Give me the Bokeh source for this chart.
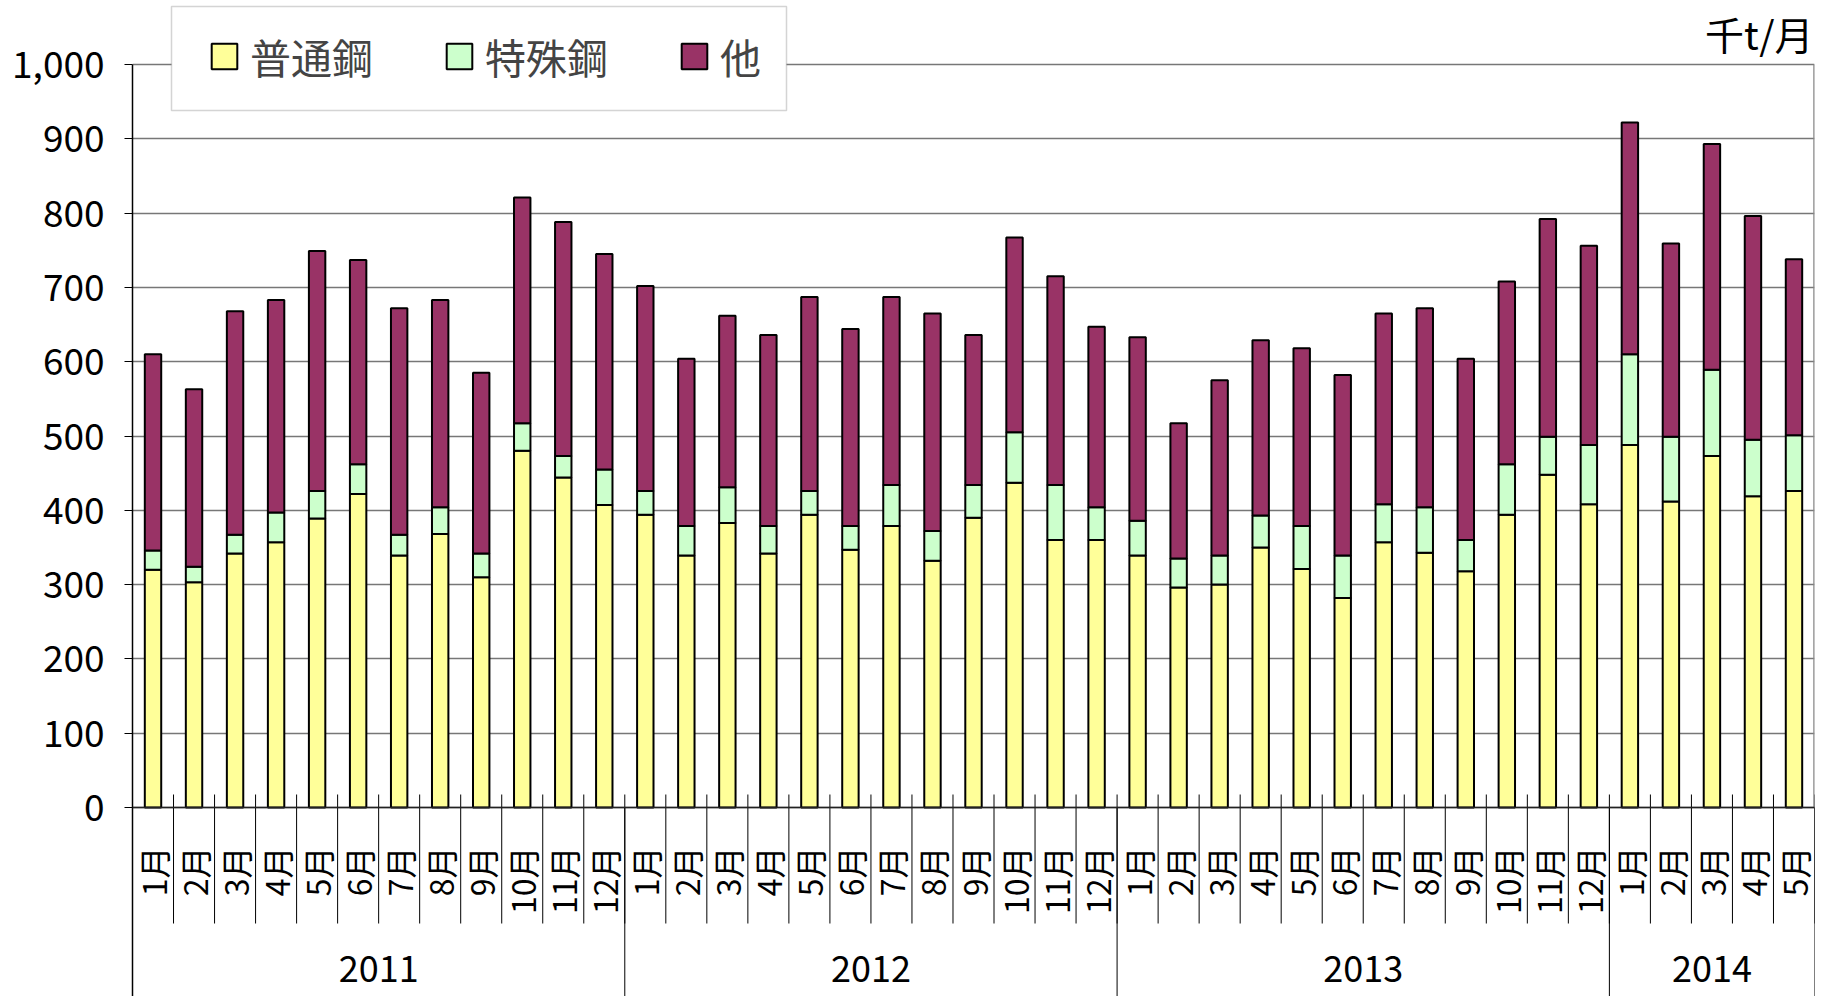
from math import pi
from bokeh.plotting import figure
from bokeh.models import (ColumnDataSource, FactorRange, Range1d, FixedTicker,
                          NumeralTickFormatter, Label, Span, BoxAnnotation)
from bokeh.core.properties import value
from bokeh.embed import file_html
from bokeh.resources import INLINE

# ---------------- data ----------------
years = ["2011", "2012", "2013", "2014"]
months_in_year = [12, 12, 12, 5]
month_names = ["1月", "2月", "3月", "4月", "5月", "6月",
               "7月", "8月", "9月", "10月", "11月", "12月"]
series_names = ["普通鋼", "特殊鋼", "他"]
series_colors = ["#FFFF99", "#CCFFCC", "#993366"]
y_ticks = [0, 100, 200, 300, 400, 500, 600, 700, 800, 900, 1000]
unit_label = "千t/月"

futsuu = [320, 303, 342, 357, 389, 422, 339, 368, 310, 480, 444, 407,
          394, 339, 383, 342, 394, 347, 379, 332, 390, 437, 360, 360,
          339, 296, 300, 350, 321, 282, 357, 343, 318, 394, 448, 408,
          488, 412, 473, 419, 426]
tokushu = [26, 21, 25, 40, 37, 40, 28, 36, 32, 37, 29, 48,
           32, 40, 48, 37, 32, 32, 55, 40, 44, 68, 74, 44,
           47, 39, 39, 43, 58, 57, 51, 61, 42, 68, 51, 80,
           122, 87, 116, 76, 75]
hoka = [264, 239, 301, 286, 323, 275, 305, 279, 243, 304, 315, 290,
        276, 225, 231, 257, 261, 265, 253, 293, 202, 262, 281, 243,
        247, 182, 236, 236, 239, 243, 257, 268, 244, 246, 293, 268,
        312, 260, 304, 301, 237]

# ---------------- layout constants (pixels, page coords) ----------------
FONT_NAME = "Noto Sans CJK JP"
FONT = value(FONT_NAME)
W, H = 1834, 996
BL, BR = 132, 20
FRAME_W = W - BL - BR
PAGE_1000 = 64               # page y of value 1000
PAGE_ZERO = 807              # page y of value 0
PPU = (PAGE_ZERO - PAGE_1000) / 1000.0
Y_END = 1000 + PAGE_1000 / PPU
Y_START = -(H - PAGE_ZERO) / PPU


def ydata(page_y):
    return (PAGE_ZERO - page_y) / PPU


factors = [(yr, month_names[i]) for yr, n in zip(years, months_in_year) for i in range(n)]

src = ColumnDataSource(dict(x=factors, **{series_names[0]: futsuu,
                                          series_names[1]: tokushu,
                                          series_names[2]: hoka}))

xr = FactorRange(*factors, factor_padding=0, group_padding=0,
                 subgroup_padding=0, range_padding=0)

p = figure(x_range=xr, y_range=Range1d(Y_START, Y_END), width=W, height=H,
           output_backend="svg", toolbar_location=None, x_axis_location=None,
           min_border_left=BL, min_border_right=BR, min_border_top=0,
           min_border_bottom=0, background_fill_color="white",
           border_fill_color="white")
p.outline_line_color = None
p.xgrid.visible = False

# grid & y axis
p.yaxis.ticker = FixedTicker(ticks=y_ticks)
p.yaxis.bounds = (Y_START, 1000)
p.yaxis.formatter = NumeralTickFormatter(format="0,0")
p.yaxis.major_label_text_font = FONT_NAME
p.yaxis.major_label_text_font_size = "37px"
p.yaxis.major_label_text_color = "black"
p.yaxis.major_label_standoff = 20
p.yaxis.major_tick_in = 0
p.yaxis.major_tick_out = 8
p.yaxis.major_tick_line_color = "black"
p.yaxis.minor_tick_line_color = None
p.yaxis.axis_line_color = "black"
p.yaxis.axis_line_width = 1.5
p.ygrid.grid_line_color = "#777777"
p.ygrid.grid_line_width = 1.3

# legend frame (drawn under the legend items)
p.add_layout(BoxAnnotation(left=171 - BL, right=786 - BL, top=H - 6, bottom=H - 110,
                           left_units="screen", right_units="screen",
                           top_units="screen", bottom_units="screen",
                           fill_color="white", fill_alpha=1,
                           line_color="#707070", line_width=1.5,
                           level="underlay"))

# bars
p.vbar_stack(series_names, x="x", width=0.4, source=src,
             fill_color=series_colors, line_color="black", line_width=2,
             legend_label=series_names)

p.add_layout(Span(location=0, dimension="width", line_color="#222222", line_width=1.6))

# separators below the plot
n = len(factors)
month_edges = [f + (-0.5,) for f in factors] + [factors[-1] + (0.5,)]
sep_src = ColumnDataSource(dict(x=month_edges,
                                y0=[ydata(PAGE_ZERO - 13)] * len(month_edges),
                                y1=[ydata(923)] * len(month_edges)))
p.segment(x0="x", y0="y0", x1="x", y1="y1", source=sep_src,
          line_color="black", line_width=1)

year_edges = []
idx = 0
for yr, cnt in zip(years, months_in_year):
    year_edges.append(factors[idx] + (-0.5,))
    idx += cnt
year_edges.append(factors[-1] + (0.5,))
ysep_src = ColumnDataSource(dict(x=year_edges,
                                 y0=[0] * len(year_edges),
                                 y1=[Y_START] * len(year_edges)))
p.segment(x0="x", y0="y0", x1="x", y1="y1", source=ysep_src,
          line_color="black", line_width=1)

# right border of the plot area
rb_src = ColumnDataSource(dict(x=[factors[-1] + (0.5,)], y0=[0], y1=[1000]))
p.segment(x0="x", y0="y0", x1="x", y1="y1", source=rb_src,
          line_color="#888888", line_width=2.5)

# month labels (vertical)
mlab = ColumnDataSource(dict(x=factors, y=[ydata(846)] * n,
                             t=[f[1] for f in factors]))
p.text(x="x", y="y", text="t", source=mlab, angle=pi / 2,
       text_align="right", text_baseline="middle", text_font=FONT,
       text_font_size="32px", text_color="black")

# year labels
ylab = ColumnDataSource(dict(x=years, y=[ydata(968)] * len(years), t=years))
p.text(x="x", y="y", text="t", source=ylab, text_align="center",
       text_baseline="middle", text_font=FONT, text_font_size="36px",
       text_color="black")

# unit label
p.add_layout(Label(x=FRAME_W - 1, y=H - 32,
                   x_units="screen", y_units="screen", text=unit_label,
                   text_align="right", text_baseline="middle",
                   text_font=FONT_NAME, text_font_size="39px", text_color="black"))

# legend (items only; frame drawn by the box above)
lg = p.legend[0]
lg.orientation = "horizontal"
lg.location = (213 + 5 - BL - 10, H - 86)
lg.border_line_color = None
lg.background_fill_alpha = 0
lg.label_text_font = FONT_NAME
lg.label_text_font_size = "41px"
lg.glyph_width = 32
lg.glyph_height = 32
lg.label_standoff = 10
lg.spacing = 70
lg.padding = 10
lg.margin = 0

open("out.html", "w").write(file_html(p, INLINE))
